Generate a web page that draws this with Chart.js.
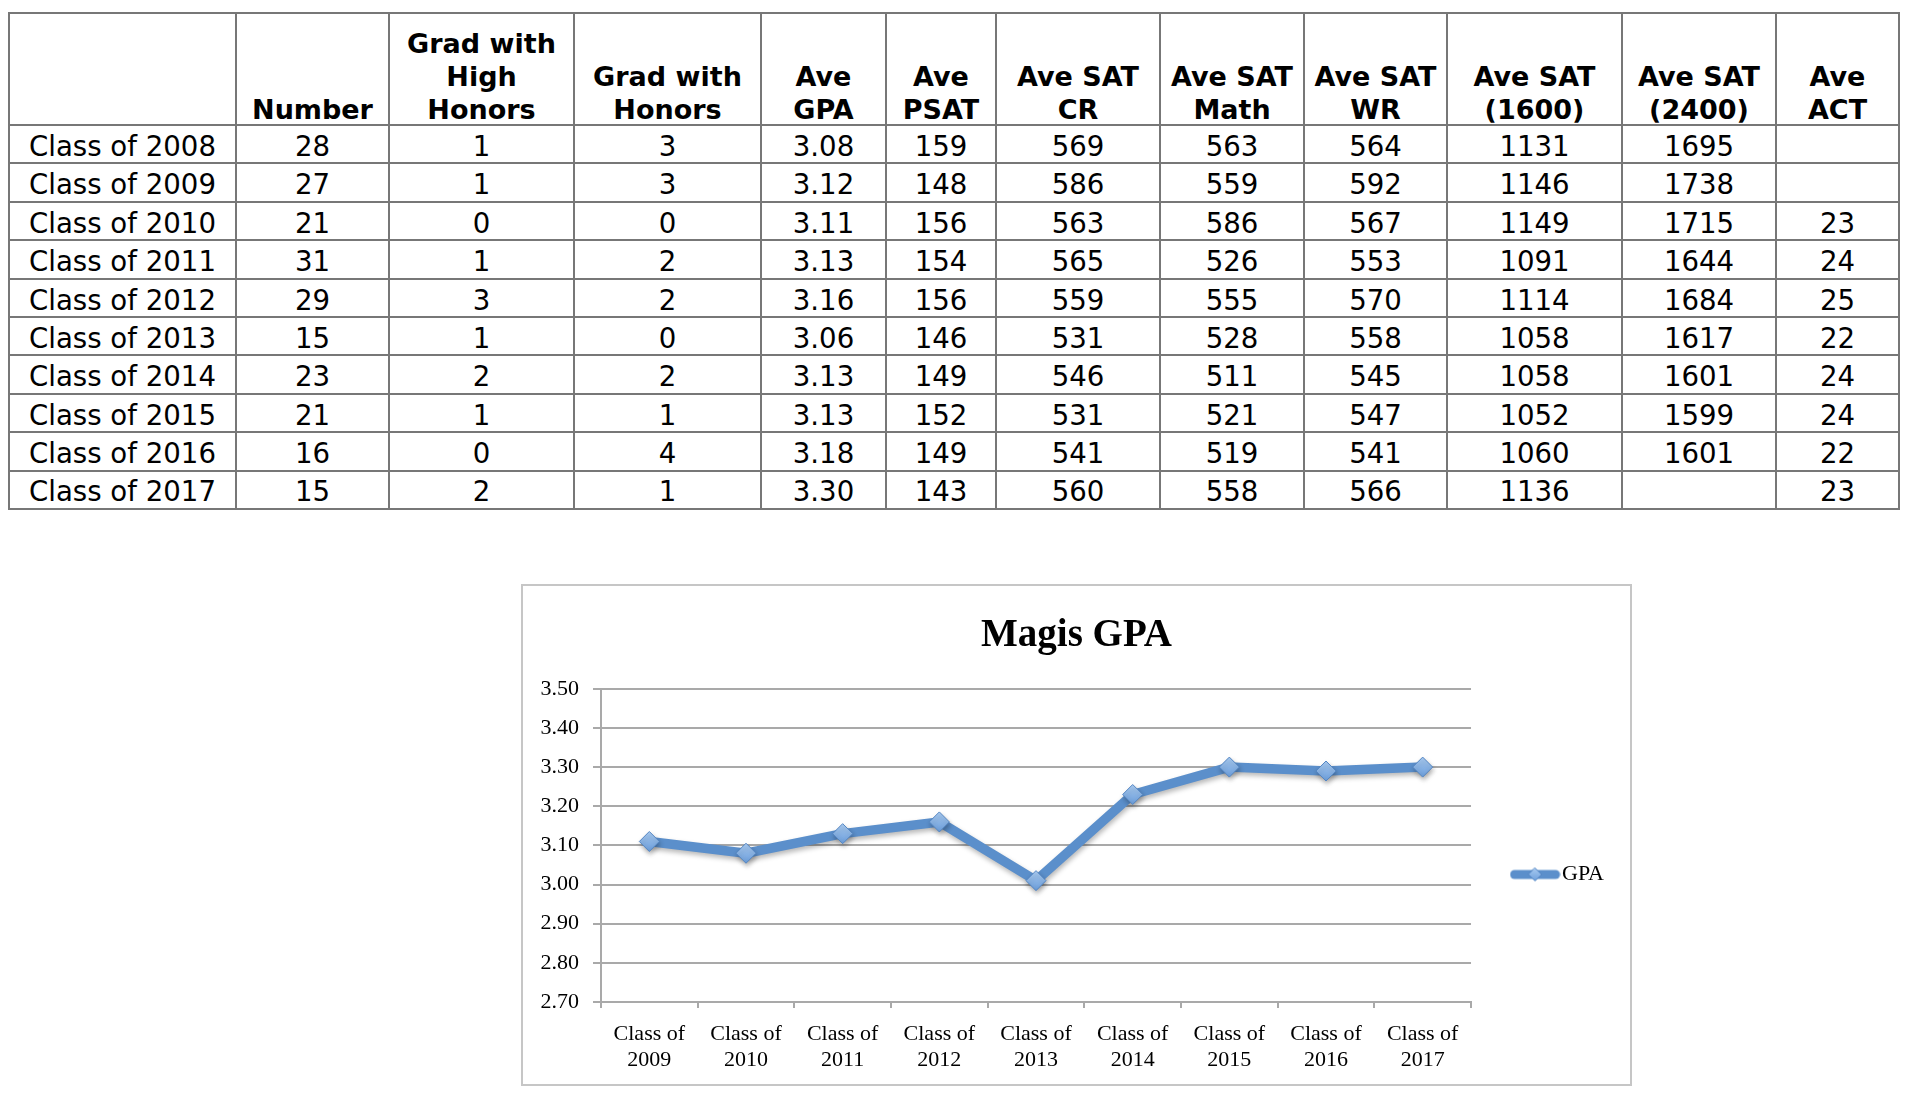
<!DOCTYPE html>
<html>
<head>
<meta charset="utf-8">
<script src="https://cdn.jsdelivr.net/npm/chart.js@4.4.1/dist/chart.umd.min.js"></script>
<style>
  html, body { margin: 0; padding: 0; background: #fff; width: 1918px; height: 1101px; overflow: hidden; }
  #tbl { position: absolute; left: 8px; top: 12px; border-collapse: collapse; table-layout: fixed; width: 1890px;
         font-family: "DejaVu Sans", Verdana, sans-serif; font-size: 27.6px; color: #000; }
  #tbl th, #tbl td { border: 2px solid #777; padding: 0; text-align: center; white-space: nowrap; overflow: hidden; }
  #tbl th { font-weight: bold; font-size: 27px; vertical-align: bottom; line-height: 33px; height: 110px; }
  #tbl th span { position: relative; top: 2px; }
  #tbl td { height: 30.9px; line-height: 30px; vertical-align: middle; padding-top: 5.5px; }
  #tbl td.first { text-align: left; padding-left: 19px; }
  #box { position: absolute; left: 521px; top: 584px; width: 1111px; height: 502px; }
  #frame { position: absolute; left: 521px; top: 584px; width: 1111px; height: 502px; border: 2px solid #c6c6c6; box-sizing: border-box; pointer-events: none; }
</style>
</head>
<body>
<table id="tbl"></table>
<div id="box"><canvas id="c" width="1111" height="502"></canvas></div>
<div id="frame"></div>
<script>
// ---------- Table data ----------
const headerLines = [[], ['Number'], ['Grad with', 'High', 'Honors'], ['Grad with', 'Honors'], ['Ave', 'GPA'], ['Ave', 'PSAT'],
  ['Ave SAT', 'CR'], ['Ave SAT', 'Math'], ['Ave SAT', 'WR'], ['Ave SAT', '(1600)'], ['Ave SAT', '(2400)'], ['Ave', 'ACT']];
const classNames = ['Class of 2008', 'Class of 2009', 'Class of 2010', 'Class of 2011', 'Class of 2012',
  'Class of 2013', 'Class of 2014', 'Class of 2015', 'Class of 2016', 'Class of 2017'];
const numberCol = [28, 27, 21, 31, 29, 15, 23, 21, 16, 15];
const highHonors = [1, 1, 0, 1, 3, 1, 2, 1, 0, 2];
const honors = [3, 3, 0, 2, 2, 0, 2, 1, 4, 1];
const aveGpa = ['3.08', '3.12', '3.11', '3.13', '3.16', '3.06', '3.13', '3.13', '3.18', '3.30'];
const avePsat = [159, 148, 156, 154, 156, 146, 149, 152, 149, 143];
const satCR = [569, 586, 563, 565, 559, 531, 546, 531, 541, 560];
const satMath = [563, 559, 586, 526, 555, 528, 511, 521, 519, 558];
const satWR = [564, 592, 567, 553, 570, 558, 545, 547, 541, 566];
const sat1600 = [1131, 1146, 1149, 1091, 1114, 1058, 1058, 1052, 1060, 1136];
const sat2400 = [1695, 1738, 1715, 1644, 1684, 1617, 1601, 1599, 1601, ''];
const aveAct = ['', '', 23, 24, 25, 22, 24, 24, 22, 23];

// ---------- Chart data ----------
const gpaCategories = [['Class of', '2009'], ['Class of', '2010'], ['Class of', '2011'], ['Class of', '2012'],
  ['Class of', '2013'], ['Class of', '2014'], ['Class of', '2015'], ['Class of', '2016'], ['Class of', '2017']];
const gpaValues = [3.11, 3.08, 3.13, 3.16, 3.01, 3.23, 3.30, 3.29, 3.30];
const seriesName = 'GPA';
const chartTitle = 'Magis GPA';
const yMin = 2.70, yMax = 3.50, yStep = 0.10;

// ---------- Build table ----------
const colWidths = [227, 153, 185, 187, 125, 110, 164, 144, 143, 175, 154, 123];
const tbl = document.getElementById('tbl');
let html = '<colgroup>' + colWidths.map(w => `<col style="width:${w}px">`).join('') + '</colgroup>';
html += '<tr>' + headerLines.map(l => `<th><span>${l.join('<br>')}</span></th>`).join('') + '</tr>';
const columns = [numberCol, highHonors, honors, aveGpa, avePsat, satCR, satMath, satWR, sat1600, sat2400, aveAct];
classNames.forEach((name, r) => {
  html += '<tr><td class="first">' + name + '</td>' + columns.map(c => `<td>${c[r]}</td>`).join('') + '</tr>';
});
tbl.innerHTML = html;

// ---------- Legend icon (line + diamond) ----------
const lineColor = '#5b8fcb';
const icon = document.createElement('canvas');
icon.width = 51; icon.height = 20;
(function () {
  const g = icon.getContext('2d');
  g.strokeStyle = lineColor; g.lineWidth = 9; g.lineCap = 'round';
  g.beginPath(); g.moveTo(5, 10); g.lineTo(46, 10); g.stroke();
  g.beginPath(); g.moveTo(25.5, 3.5); g.lineTo(32, 10); g.lineTo(25.5, 16.5); g.lineTo(19, 10); g.closePath();
  const gr = g.createLinearGradient(0, 3, 0, 17); gr.addColorStop(0, '#a9cbf1'); gr.addColorStop(1, '#6d9fdb');
  g.fillStyle = gr; g.fill(); g.strokeStyle = '#5486c3'; g.lineWidth = 1; g.stroke();
})();

const shadowPlugin = {
  id: 'shadow',
  beforeDatasetsDraw(chart) { const c = chart.ctx; c.save(); c.shadowColor = 'rgba(0,0,0,0.28)'; c.shadowBlur = 5; c.shadowOffsetX = 1; c.shadowOffsetY = 3; },
  afterDatasetsDraw(chart) { chart.ctx.restore(); }
};

const serif = 'Liberation Serif';
const gridColor = '#a9a9a9';

new Chart(document.getElementById('c'), {
  type: 'line',
  data: {
    labels: gpaCategories,
    datasets: [{
      label: seriesName,
      data: gpaValues,
      borderColor: lineColor,
      borderWidth: 9.5,
      borderJoinStyle: 'round',
      borderCapStyle: 'round',
      tension: 0,
      pointStyle: 'rectRot',
      pointRadius: 10,
      pointHoverRadius: 10,
      pointBorderWidth: 1,
      pointBorderColor: '#5486c3',
      pointBackgroundColor: (ctx) => {
        const chart = ctx.chart;
        const ys = chart.scales && chart.scales.y;
        if (!ys || ctx.raw === undefined || !isFinite(ys.top)) return '#7dade4';
        const py = ys.getPixelForValue(ctx.raw);
        const gr = chart.ctx.createLinearGradient(0, py - 10, 0, py + 10);
        gr.addColorStop(0, '#a9cbf1'); gr.addColorStop(1, '#6a9cd9');
        return gr;
      },
      fill: false
    }]
  },
  options: {
    responsive: false,
    animation: false,
    devicePixelRatio: 1,
    layout: { padding: { left: 18, right: 18, top: 0, bottom: 0 } },
    plugins: {
      title: {
        display: true, text: chartTitle, color: '#000',
        font: { family: serif, size: 39, weight: 'bold' },
        padding: { top: 29, bottom: 29 }
      },
      legend: {
        display: true, position: 'right',
        title: { display: true, text: '', font: { size: 10 }, padding: { top: 67, bottom: 0 } },
        labels: {
          usePointStyle: true, pointStyleWidth: 32, padding: 48, color: '#000',
          font: { family: serif, size: 22 },
          generateLabels: (chart) => chart.data.datasets.map((ds, i) => ({
            text: ds.label, pointStyle: icon, fillStyle: lineColor, strokeStyle: lineColor,
            lineWidth: 0, hidden: false, datasetIndex: i, fontColor: '#000'
          }))
        }
      },
      tooltip: { enabled: false }
    },
    scales: {
      x: {
        type: 'category', offset: true,
        grid: { display: true, drawOnChartArea: false, drawTicks: true, tickLength: 6, offset: true, color: gridColor, lineWidth: 2 },
        border: { display: true, color: gridColor, width: 2 },
        ticks: { color: '#000', font: { family: serif, size: 22 }, padding: 13, maxRotation: 0, autoSkip: false },
        afterFit: (s) => { s.height = 84; }
      },
      y: {
        min: yMin, max: yMax,
        grid: { color: gridColor, lineWidth: 2, tickLength: 8 },
        border: { display: true, color: gridColor, width: 2 },
        ticks: { stepSize: yStep, color: '#000', font: { family: serif, size: 22 }, padding: 14,
                 callback: (v) => Number(v).toFixed(2) },
        afterFit: (s) => { s.width = 62; }
      }
    }
  },
  plugins: [shadowPlugin]
});
</script>
</body>
</html>
